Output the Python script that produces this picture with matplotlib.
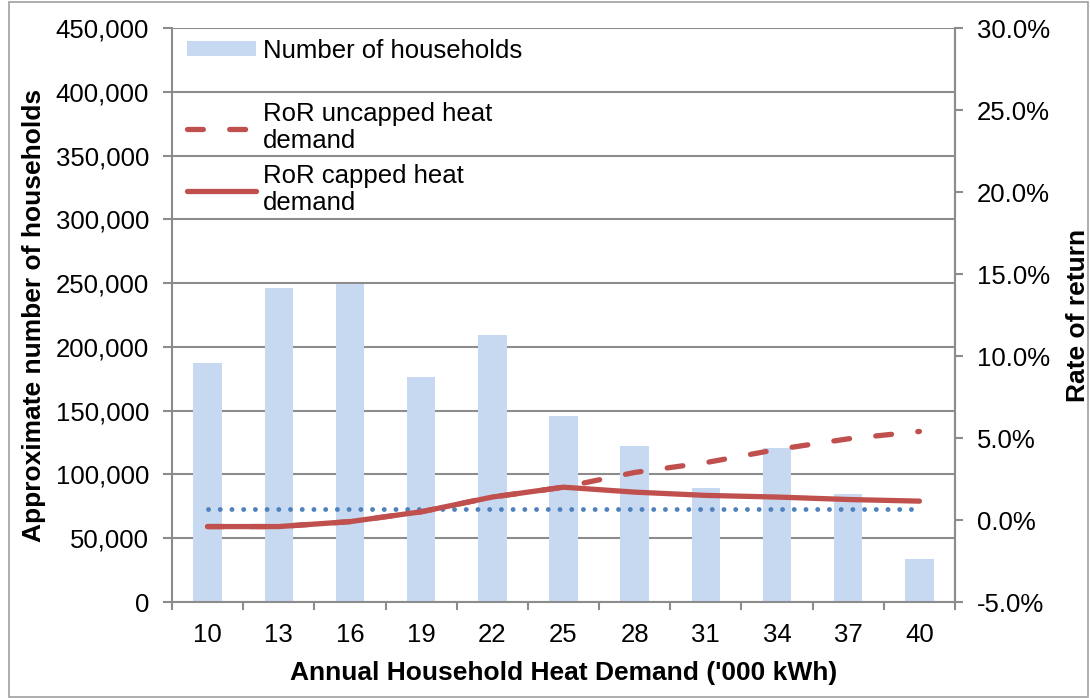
import numpy as np
import matplotlib
matplotlib.use("Agg")
import matplotlib.pyplot as plt
from matplotlib.ticker import FuncFormatter, FixedLocator
from matplotlib.patches import Rectangle

plt.rcParams['font.family'] = ['Liberation Sans', 'DejaVu Sans']

# Values
demand = ["10", "13", "16", "19", "22", "25", "28", "31", "34", "37", "40"]
households = [187000, 246000, 249500, 176500, 209500, 146000, 122500, 89500, 121000, 85000, 34000]
ror_uncapped = [-0.4, -0.4, -0.1, 0.5, 1.4, 2.0, 2.9, 3.5, 4.3, 4.95, 5.4]
ror_capped = [-0.4, -0.4, -0.1, 0.5, 1.4, 2.0, 1.7, 1.5, 1.4, 1.25, 1.15]
ror_reference = [0.7] * len(demand)

red = "#C0504D"
grid_col = "#8C8C8C"
fs = 18.5
fs_title = 19

W, H = 1090, 698
fig = plt.figure(figsize=(W / 100, H / 100), dpi=100)
ax = fig.add_axes([172 / W, (H - 602) / H, (955 - 172) / W, 574 / H])
x = np.arange(len(demand))

b = ax.bar(x, households, width=0.4, color="#C6D9F1", label="Number of households", zorder=2)
ax.set_xlim(-0.5, len(demand) - 0.5)
ax.set_ylim(0, 450000)
ax.set_yticks(np.arange(0, 450001, 50000))
ax.yaxis.set_major_formatter(FuncFormatter(lambda v, p: "{:,.0f}".format(v)))
ax.grid(axis="y", color=grid_col, linewidth=1.5, zorder=0)
ax.set_axisbelow(True)

ax.set_xticks(x)
ax.set_xticklabels(demand)
ax.xaxis.set_minor_locator(FixedLocator(np.arange(-0.5, len(demand), 1.0)))
ax.tick_params(axis="x", which="major", length=0, pad=15, labelsize=fs)
ax.tick_params(axis="x", which="minor", length=6, width=1.5, color=grid_col)
ax.tick_params(axis="y", length=6.5, width=1.5, color=grid_col, labelsize=fs, pad=10)

for s in ax.spines.values():
    s.set_color(grid_col)
    s.set_linewidth(1.5)
ax.spines["top"].set_visible(False)

ax.set_xlabel("Annual Household Heat Demand ('000 kWh)", fontsize=fs_title, fontweight="bold", labelpad=10)
ax.set_ylabel("Approximate number of households", fontsize=fs_title, fontweight="bold", labelpad=7)

ax2 = ax.twinx()
ax2.set_ylim(-5, 30)
ax2.set_yticks(np.arange(-5, 30.1, 5))
ax2.yaxis.set_major_formatter(FuncFormatter(lambda v, p: "{:.1f}%".format(v)))
ax2.tick_params(axis="y", length=6, width=1.5, color=grid_col, labelsize=fs, pad=10)
for s in ax2.spines.values():
    s.set_visible(False)
ax2.spines["right"].set_visible(True)
ax2.spines["right"].set_color(grid_col)
ax2.spines["right"].set_linewidth(1.5)
ax2.set_ylabel("Rate of return", fontsize=fs_title, fontweight="bold", labelpad=11)

l1, = ax2.plot(x, ror_uncapped, color=red, linewidth=3.8, dashes=(3, 5), dash_capstyle="round",
               label="RoR uncapped heat\ndemand", zorder=3)
l2, = ax2.plot(x, ror_capped, color=red, linewidth=3.8, solid_capstyle="round",
               label="RoR capped heat\ndemand", zorder=4)
ax2.plot(x, ror_reference, color="#4F81BD", linewidth=3.5, linestyle=(0, (0.01, 2.4)),
         dash_capstyle="round", zorder=3)

# legend split in two so the entries sit where Excel put them
leg_kw = dict(loc="upper left", frameon=False, fontsize=fs, handlelength=2.7,
              handleheight=0.5, borderpad=0, borderaxespad=0, handletextpad=0.25)
leg1 = ax2.legend([b], [b.get_label()], bbox_to_anchor=(0.019, 0.981), **leg_kw)
ax2.add_artist(leg1)
leg2 = ax2.legend([l1, l2], [l1.get_label(), l2.get_label()], bbox_to_anchor=(0.019, 0.871),
                  labelspacing=0.44, **leg_kw)
for t in leg2.get_texts():
    t.set_linespacing(1.15)

fig.patches.append(Rectangle((9 / W, 1 / H), (W - 11) / W, (H - 3) / H, transform=fig.transFigure,
                             fill=False, edgecolor="#A0A0A0", linewidth=1.2))

fig.savefig("out.png", dpi=100)
